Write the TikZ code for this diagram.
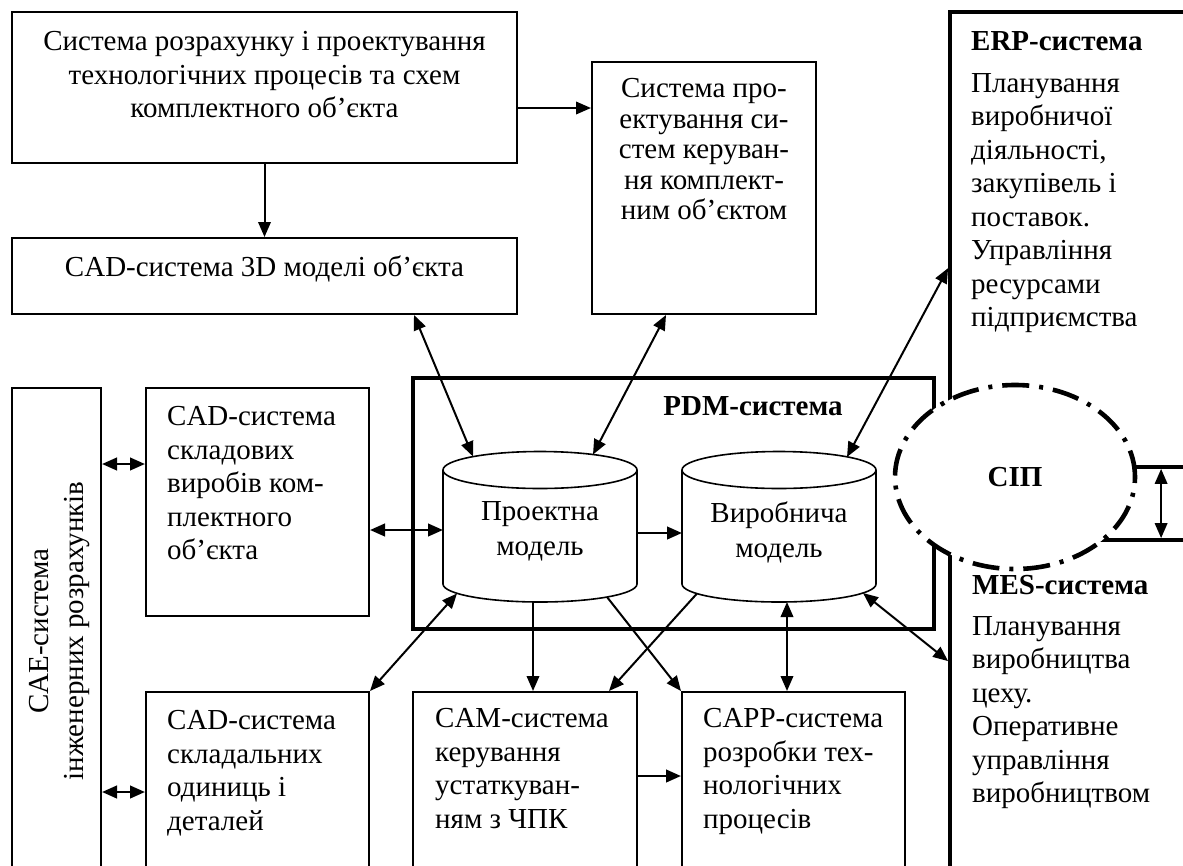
\documentclass[tikz,border=0pt]{standalone}
\usepackage{fontspec}
\setmainfont{Liberation Serif}
\usetikzlibrary{arrows.meta,calc,shapes.geometric}
\tikzset{
  box/.style={draw, line width=2pt, inner sep=0pt},
  thickbox/.style={draw, line width=3.8pt, inner sep=0pt},
  tx/.style={inner sep=0pt, font=\fontsize{29pt}{33.5pt}\selectfont},
  cyl/.style={line width=1.6pt},
  arr/.style={line width=2pt, -{Triangle[length=15pt,width=12.5pt]}},
  darr/.style={line width=2pt, {Triangle[length=15pt,width=12.5pt]}-{Triangle[length=15pt,width=12.5pt]}},
  sipstyle/.style={ellipse, draw, fill=white, line width=4.6pt, inner sep=0pt,
    minimum width=240pt, minimum height=184pt,
    dash pattern=on 27pt off 10pt on 4pt off 10pt,
    font=\fontsize{29pt}{33.5pt}\selectfont\bfseries}
}
\begin{document}
\begin{tikzpicture}[x=1pt,y=-1pt]
\path[use as bounding box, fill=white] (0,0) rectangle (1183,865);
\clip (0,0) rectangle (1183,865);

% ---------- boxes ----------
\node[box, minimum width=505pt, minimum height=151pt] (tb) at (264.5,87.5) {};
\node[box, minimum width=505pt, minimum height=76pt] (cad3d) at (264.5,276) {};
\node[box, minimum width=224pt, minimum height=252pt] (sp) at (704,188) {};
\node[thickbox, minimum width=260pt, minimum height=455pt] (erp) at (1080,239.5) {};
\node[thickbox, minimum width=260pt, minimum height=360pt] (mes) at (1080,720) {};
\node[box, minimum width=89pt, minimum height=512pt] (cae) at (56.5,644) {};
\node[box, minimum width=223pt, minimum height=228pt] (cads1) at (257.5,502) {};
\node[box, minimum width=223pt, minimum height=208pt] (cads2) at (257.5,796) {};
\node[thickbox, minimum width=521pt, minimum height=251pt] (pdm) at (673.5,503.5) {};
\node[box, minimum width=224pt, minimum height=208pt] (cam) at (525,796) {};
\node[box, minimum width=223pt, minimum height=208pt] (capp) at (793.5,796) {};

% ---------- texts ----------
\node[tx, anchor=north, align=center] (tbt) at (264.5,31.5)
  {Система розрахунку і проектування\\технологічних процесів та схем\\комплектного об’єкта};
\node[tx, anchor=north] (cad3dt) at (264.5,255.5) {CAD-система 3D моделі об’єкта};
\node[tx, anchor=north, align=center, font=\fontsize{29pt}{30.5pt}\selectfont] (spt) at (704,78.5)
  {Система про-\\ектування си-\\стем керуван-\\ня комплект-\\ним об’єктом};
\node[tx, anchor=north west, align=left] (erpt) at (971,31.5)
  {\textbf{ERP-система}\\[8pt]Планування\\виробничої\\діяльності,\\закупівель і\\поставок.\\Управління\\ресурсами\\підприємства};
\node[tx, anchor=north west, align=left] (mest) at (972,575.5)
  {\textbf{MES-система}\\[7pt]Планування\\виробництва\\цеху.\\Оперативне\\управління\\виробництвом};
\node[tx, rotate=90, align=center, font=\fontsize{29pt}{35pt}\selectfont] (caet) at (59.5,631)
  {CAE-система\\інженерних розрахунків};
\node[tx, anchor=north west, align=left] (cads1t) at (167,406.5)
  {CAD-система\\складових\\виробів ком-\\плектного\\об’єкта};
\node[tx, anchor=north west, align=left] (cads2t) at (167,710.5)
  {CAD-система\\складальних\\одиниць і\\деталей};
\node[tx, anchor=north west, align=left] (camt) at (435,708.5)
  {CAM-система\\керування\\устаткуван-\\ням з ЧПК};
\node[tx, anchor=north west, align=left] (cappt) at (703,708.5)
  {CAPP-система\\розробки тех-\\нологічних\\процесів};
\node[tx, anchor=north] (pdmt) at (753,396.5) {\textbf{PDM-система}};

% ---------- cylinders ----------
\draw[cyl] (443,470) -- (443,584) arc[start angle=180, end angle=0, x radius=97, y radius=18] -- (637,470);
\draw[cyl] (540,470) ellipse [x radius=97, y radius=18.5];
\draw[cyl] (682,470) -- (682,584) arc[start angle=180, end angle=0, x radius=97, y radius=18] -- (876,470);
\draw[cyl] (779,470) ellipse [x radius=97, y radius=18.5];
\node[tx, anchor=north, align=center, font=\fontsize{29pt}{35pt}\selectfont] (pm) at (540,501.5) {Проектна\\модель};
\node[tx, anchor=north, align=center, font=\fontsize{29pt}{35pt}\selectfont] (vp) at (779,501.5) {Виробнича\\модель};

\coordinate (pmTL) at (473,456.5);
\coordinate (pmTR) at (593,454.5);
\coordinate (pmL)  at (443,530);
\coordinate (pmR)  at (637,533);
\coordinate (pmBL) at (457,593.5);
\coordinate (pmB)  at (533,602);
\coordinate (pmBR) at (607,597);
\coordinate (vpL)  at (682,533);
\coordinate (vpTR) at (847,457);
\coordinate (vpBL) at (697,593.5);
\coordinate (vpB)  at (787,602);
\coordinate (vpBR) at (863,593);

% ---------- connectors ----------
\draw[arr] (tb.south) -- (cad3d.north);
\draw[arr] ($(tb.east)+(0,20.5)$) -- ($(sp.west)+(0,-80)$);
\draw[darr] ($(cad3d.south west)+(403,0)$) -- (pmTL);
\draw[darr] ($(sp.south west)+(75,0)$) -- (pmTR);
\draw[darr] (vpTR) -- ($(erp.north west)+(0,258)$);
\path ($(cads1.north west)+(0,77)$) coordinate (k1);
\draw[darr, line width=2.6pt] (cae.east |- k1) -- (k1);
\path ($(cads2.north west)+(0,101)$) coordinate (k2);
\draw[darr, line width=2.6pt] (cae.east |- k2) -- (k2);
\draw[darr, line width=2.6pt] ($(cads1.east)+(0,28)$) -- (pmL);
\draw[arr, line width=2.6pt] (pmR) -- (vpL);
\draw[darr] (pmBL) -- (cads2.north east);
\draw[arr] (pmB) -- (pmB |- cam.north);
\draw[arr] (pmBR) -- (capp.north west);
\draw[arr] (vpBL) -- ($(cam.north east)+(-29,0)$);
\draw[darr] (vpB) -- (vpB |- capp.north);
\draw[darr] (vpBR) -- ($(mes.north west)+(0,123)$);
\draw[arr, line width=2.6pt] ($(cam.north east)+(0,85)$) -- ($(capp.north west)+(0,85)$);

% ---------- SIP ellipse ----------
\node[sipstyle] (sip) at (1015,477) {СІП};
\draw[darr] ($(erp.south west)+(213,0)$) -- ($(mes.north west)+(213,0)$);
\end{tikzpicture}
\end{document}
